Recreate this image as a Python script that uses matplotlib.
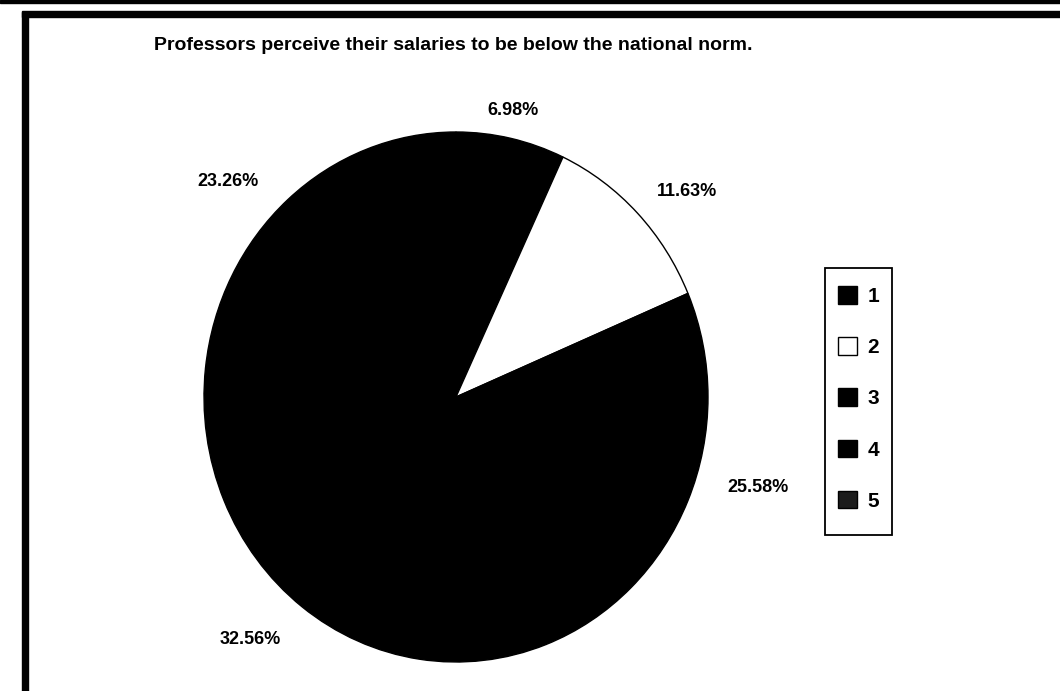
import numpy as np
import matplotlib.pyplot as plt
from matplotlib.patches import Rectangle, Patch

plt.rcParams['font.family'] = ['Liberation Sans', 'DejaVu Sans']

categories = ['1', '2', '3', '4', '5']
shares = [6.98, 11.63, 25.58, 32.56, 23.26]
pie_colors = ['black', 'white', 'black', 'black', 'black']
key_colors = ['black', 'white', 'black', 'black', '#1c1c1c']
title = 'Professors perceive their salaries to be below the national norm.'

# percent label placement: degrees clockwise from 12 o'clock, radius
label_angles = [11.8, 49.8, 106, 221.7, 311.9]
label_radii = [1.106, 1.2, 1.245, 1.228, 1.215]

W, H = 1060, 691
fig = plt.figure(figsize=(W / 100, H / 100), dpi=100)

# pie is slightly taller than wide, so give it a non-square axes
ax = fig.add_axes([204 / W, 29 / H, 504 / W, 530 / H])
wedges, _ = ax.pie(shares, colors=pie_colors, startangle=90, counterclock=False,
                   wedgeprops=dict(edgecolor='black', linewidth=1.0))
ax.set_aspect('auto')
ax.set_xlim(-1, 1)
ax.set_ylim(-1, 1)
ax.axis('off')

for v, a, r in zip(shares, label_angles, label_radii):
    t = np.deg2rad(a)
    ax.text(r * np.sin(t), r * np.cos(t), f'{v:.2f}%',
            ha='center', va='center', fontsize=13, fontweight='bold',
            clip_on=False)

fig.text(154 / W, 1 - 50 / H, title, ha='left', va='baseline',
         fontsize=14, fontweight='bold')

# legend entries, box drawn separately
handles = [Patch(facecolor=c, edgecolor='black', linewidth=1.0) for c in key_colors]
leg = fig.legend(handles, categories, loc='upper left',
                 bbox_to_anchor=(838 / W, 1 - 286 / H),
                 prop=dict(weight='bold', size=15),
                 handlelength=0.92, handleheight=0.92, handletextpad=0.5,
                 labelspacing=1.5, borderpad=0, borderaxespad=0,
                 frameon=False)
fig.patches.append(Rectangle((825 / W, 1 - 535 / H), 67 / W, 267 / H,
                             transform=fig.transFigure, fill=False,
                             edgecolor='black', linewidth=1.3))

# page frame lines
fig.patches.append(Rectangle((0, 1 - 3 / H), 1, 3 / H, transform=fig.transFigure,
                             color='black', zorder=10))
fig.patches.append(Rectangle((22 / W, 1 - 17 / H), 1, 6 / H,
                             transform=fig.transFigure, color='black', zorder=10))
fig.patches.append(Rectangle((22 / W, 0), 6 / W, 1 - 12 / H,
                             transform=fig.transFigure, color='black', zorder=10))

fig.savefig('out.png', dpi=100, facecolor='white')
